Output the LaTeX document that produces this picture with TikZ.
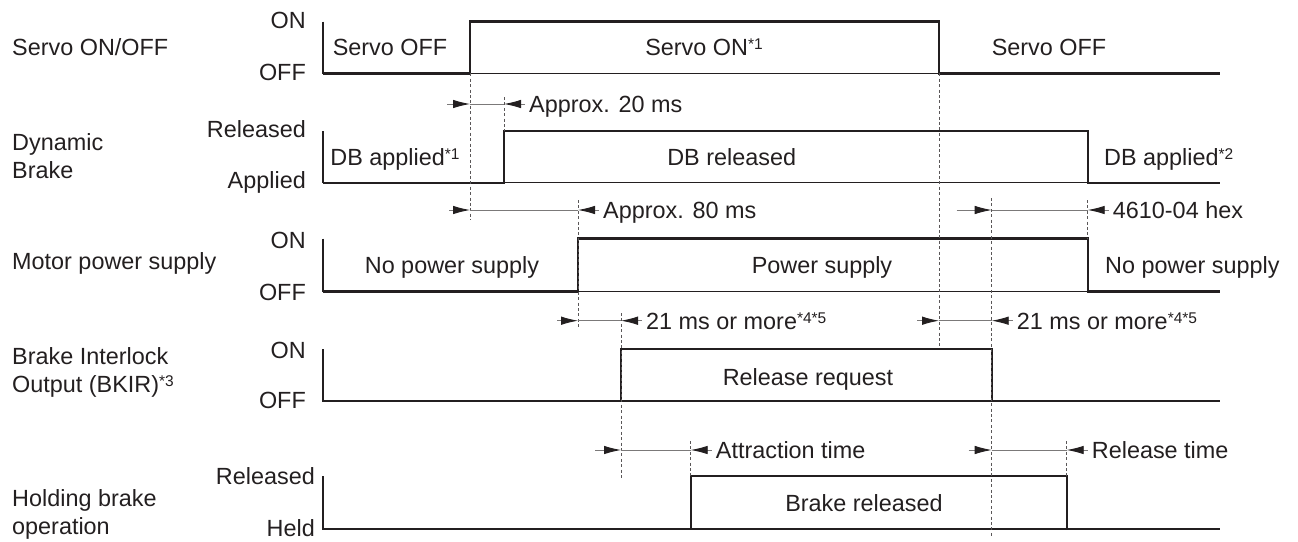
\documentclass[tikz,border=0pt]{standalone}
\usepackage{fontspec}
\setmainfont{Liberation Sans}
\usepackage{xcolor}
\usetikzlibrary{arrows.meta}

\definecolor{ink}{HTML}{231F20}
\newcommand{\supmark}[1]{\raisebox{6pt}{\fontsize{15.5}{16}\selectfont#1}}

\begin{document}
\begin{tikzpicture}[
    x=1pt, y=-1pt,
    font=\fontsize{23.4}{28}\selectfont,
    every node/.style={text=ink},
    sig/.style={line width=2.4pt, ink},
    base/.style={line width=1.1pt, ink},
    guide/.style={ink!75, line width=0.9pt, dash pattern=on 3pt off 2.4pt},
    dim/.style={ink!60, line width=0.9pt},
    tip/.style={-{Latex[length=17pt, width=8.5pt, ink]}, ink!60, line width=0.9pt},
    lvl/.style={anchor=east, inner sep=0pt, text height=17pt, text depth=0pt},
    txt/.style={inner sep=0pt, text height=17pt, text depth=0pt},
    row/.style={anchor=west, align=left, inner sep=0pt},
  ]
    \useasboundingbox (0,0) rectangle (1298,541);

    % ---------- signal names ----------
    \node[row] (nsrv) at (12,47)    {Servo ON/OFF};
    \node[row] (ndb)  at (12,156)   {Dynamic\\Brake};
    \node[row] (npwr) at (12,263)   {Motor power supply};
    \node[row] (nbk)  at (12,372)   {Brake Interlock\\Output (BKIR)\supmark{*3}};
    \node[row] (nhb)  at (12,514)   {Holding brake\\operation};

    % ---------- levels ----------
    \node[lvl] (l1h) at (306,20)  {ON};
    \node[lvl] (l1l) at (306,72)  {OFF};
    \node[lvl] (l2h) at (306,129) {Released};
    \node[lvl] (l2l) at (306,180) {Applied};
    \node[lvl] (l3h) at (306,240) {ON};
    \node[lvl] (l3l) at (306,292) {OFF};
    \node[lvl] (l4h) at (306,350) {ON};
    \node[lvl] (l4l) at (306,400) {OFF};
    \node[lvl] (l5h) at (315,476) {Released};
    \node[lvl] (l5l) at (315,528) {Held};

    % ---------- waveforms: hi / lo / rise / fall ----------
    \foreach \hi/\lo/\r/\f in {21.5/73.3/470/939, 131/182.7/504/1087.7,
        238.5/291.5/578/1087.7, 349/401/621/991.7, 476/529/690.7/1066.7} {
      \draw[base] (323,\hi) -- (323,\lo) -- (1220,\lo);
      \draw[sig] (323,\lo) -| (\r,\hi) -| (\f,\lo) -- (1220,\lo);
    }

    % ---------- timing guides ----------
    \foreach \x/\a/\b in {470/73.3/220, 504/97/131, 578/200/328, 939/73.3/347,
        991.7/198/538, 1087.7/200/238.5, 621/313/478, 690.7/441/476, 1066.7/441/476}
      \draw[guide] (\x,\a) -- (\x,\b);

    % ---------- intervals ----------
    \foreach \y/\a/\b/\l/\t in {104/470/504/23/{Approx. 20 ms},
        210/470/578/21/{Approx. 80 ms},
        210/991.7/1087.7/35/{4610-04 hex},
        320.7/578/621/21/{21 ms or more\supmark{*4*5}},
        320.7/939/991.7/22/{21 ms or more\supmark{*4*5}},
        450/621/690.7/26/{Attraction time},
        450/991.7/1066.7/23/{Release time}} {
      \draw[dim] (\a,\y) -- (\b,\y);
      \draw[tip] (\a-\l,\y) -- (\a,\y);
      \draw[tip] (\b+21,\y) -- (\b,\y);
      \node[txt, anchor=west] at (\b+25,\y) {\t};
    }

    % ---------- states ----------
    \node[txt] (s1a) at (390,47)    {Servo OFF};
    \node[txt] (s1b) at (704,47)    {Servo ON\supmark{*1}};
    \node[txt] (s1c) at (1049,47)   {Servo OFF};
    \node[txt] (s2a) at (395,157)   {DB applied\supmark{*1}};
    \node[txt] (s2b) at (731.7,157) {DB released};
    \node[txt, anchor=west] (s2c) at (1104,157) {DB applied\supmark{*2}};
    \node[txt] (s3a) at (452,265)   {No power supply};
    \node[txt] (s3b) at (822,265)   {Power supply};
    \node[txt, anchor=west] (s3c) at (1105,265) {No power supply};
    \node[txt] (s4)  at (808,377)   {Release request};
    \node[txt] (s5)  at (864,503)   {Brake released};
  \end{tikzpicture}
\end{document}
